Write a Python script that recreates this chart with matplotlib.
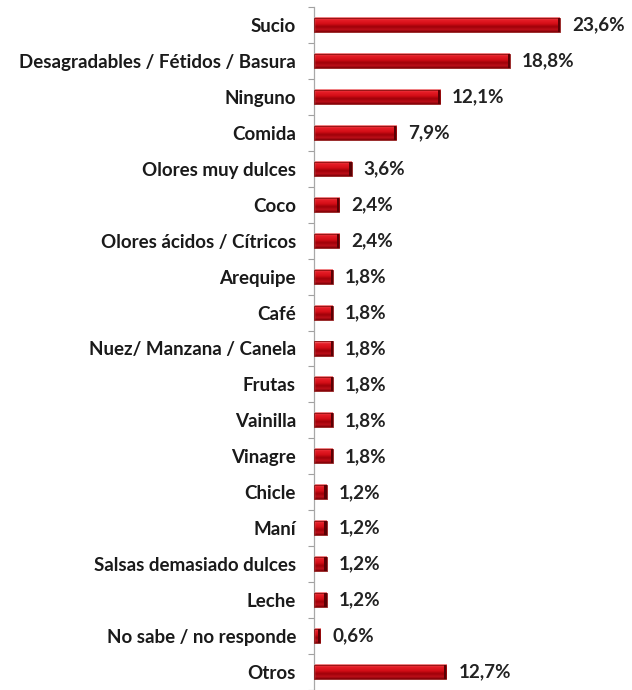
import numpy as np
import matplotlib
matplotlib.use('Agg')
import matplotlib.pyplot as plt
from matplotlib.colors import LinearSegmentedColormap

categorias = ['Sucio', 'Desagradables / Fétidos / Basura', 'Ninguno', 'Comida',
              'Olores muy dulces', 'Coco', 'Olores ácidos / Cítricos', 'Arequipe',
              'Café', 'Nuez/ Manzana / Canela', 'Frutas', 'Vainilla', 'Vinagre',
              'Chicle', 'Maní', 'Salsas demasiado dulces', 'Leche',
              'No sabe / no responde', 'Otros']
porcentajes = [23.6, 18.8, 12.1, 7.9, 3.6, 2.4, 2.4, 1.8, 1.8, 1.8, 1.8, 1.8, 1.8,
               1.2, 1.2, 1.2, 1.2, 0.6, 12.7]
etiquetas = [f'{v:.1f}%'.replace('.', ',') for v in porcentajes]

plt.rcParams['font.family'] = ['Lato', 'DejaVu Sans']

fig = plt.figure(figsize=(6.32, 6.9), dpi=100)
ax = fig.add_axes([314 / 632, 0, 314 / 632, 683 / 690])

n = len(categorias)
ax.set_xlim(0, 314 / 10.42)
ax.set_ylim(n - 0.5, -0.5)

# degradado vertical para dar efecto de cilindro a las barras
cmap = LinearSegmentedColormap.from_list('cil', [
    (0.0, '#f3a0a0'), (0.15, '#e8202a'), (0.45, '#d40d16'),
    (0.65, '#9c0008'), (0.85, '#c0101a'), (1.0, '#7a0006')])
grad = np.linspace(0, 1, 64).reshape(-1, 1)
alto = 0.39

for i, v in enumerate(porcentajes):
    ax.imshow(grad, cmap=cmap, aspect='auto', interpolation='bicubic',
              extent=(0, v, i + alto / 2, i - alto / 2), zorder=2)
    ax.barh(i, v, height=alto, color='none', edgecolor='#8a0a0a', linewidth=0.6, zorder=3)
    ax.barh(i, min(0.2, v * 0.3), left=v - min(0.2, v * 0.3), height=alto,
            color='#5a0004', linewidth=0, zorder=3)
    ax.annotate(etiquetas[i], (v, i), xytext=(12, 0), textcoords='offset pixels',
                ha='left', va='center', fontsize=13.6, fontweight='bold', color='#222222')

ax.set_yticks(range(n))
ax.set_yticklabels(categorias, fontsize=13.5, fontweight='bold', color='#1a1a1a')
ax.tick_params(axis='y', which='major', length=0, pad=13)
ax.set_yticks(np.arange(-0.5, n, 1), minor=True)
ax.tick_params(axis='y', which='minor', length=4, width=0.8, color='#a0a0a0', direction='out')
ax.set_xticks([])

for lado in ['top', 'right', 'bottom']:
    ax.spines[lado].set_visible(False)
ax.spines['left'].set_color('#a8a8a8')
ax.spines['left'].set_linewidth(0.9)

fig.savefig('out.png', dpi=100, facecolor='white')
